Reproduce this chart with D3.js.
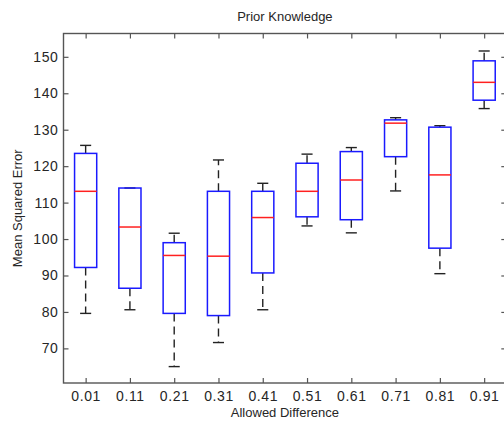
<!DOCTYPE html>
<html>
<head>
<meta charset="utf-8">
<script src="https://cdn.jsdelivr.net/npm/d3@7"></script>
<style>
  html, body { margin: 0; padding: 0; background: #fff; }
  svg { display: block; }
  text { font-family: "Liberation Sans", Arial, sans-serif; }
</style>
</head>
<body>
<svg id="chart" width="504" height="423"></svg>
<script>
// Allowed difference groups and their five-number summaries (MSE)
const categories = ["0.01", "0.11", "0.21", "0.31", "0.41", "0.51", "0.61", "0.71", "0.81", "0.91"];
const whiskerLow  = [79.6, 80.6, 65.0, 71.6, 80.6, 103.6, 101.7, 113.2, 90.5, 135.8];
const quartile1   = [92.2, 86.5, 79.6, 79.0, 90.7, 106.1, 105.3, 122.6, 97.5, 138.1];
const medians     = [113.1, 103.3, 95.5, 95.3, 105.9, 113.1, 116.2, 131.8, 117.6, 143.0];
const quartile3   = [123.5, 114.0, 99.0, 113.1, 113.1, 120.8, 124.0, 132.7, 130.7, 148.9];
const whiskerHigh = [125.7, 114.0, 101.6, 121.7, 115.3, 123.3, 125.1, 133.3, 131.1, 151.6];
const yTicks = [70, 80, 90, 100, 110, 120, 130, 140, 150];

const svg = d3.select("#chart");
const plotLeft = 63.5, plotRight = 506.3, plotTop = 33.5, plotBottom = 383;

const x = d3.scaleLinear().domain([0.5, categories.length + 0.5]).range([plotLeft, plotRight]);
const y = d3.scaleLinear().domain([60.5, 156.4]).range([plotBottom, plotTop]);

const boxes = categories.map((c, i) => ({
  pos: i + 1, label: c,
  lo: whiskerLow[i], q1: quartile1[i], med: medians[i], q3: quartile3[i], hi: whiskerHigh[i]
}));

const axisColor = "#555";
const textColor = "#262626";

// Frame
svg.append("rect")
  .attr("x", plotLeft).attr("y", plotTop)
  .attr("width", plotRight - plotLeft).attr("height", plotBottom - plotTop)
  .attr("fill", "none").attr("stroke", axisColor).attr("stroke-width", 1.4);

// Bottom axis (ticks point inward)
const xAxis = d3.axisBottom(x)
  .tickValues(boxes.map(b => b.pos))
  .tickFormat((d, i) => categories[i])
  .tickSizeInner(-5).tickSizeOuter(0).tickPadding(8);
const gx = svg.append("g").attr("transform", `translate(0,${plotBottom})`).call(xAxis);

// Top axis ticks
const gxt = svg.append("g").attr("transform", `translate(0,${plotTop})`)
  .call(d3.axisTop(x).tickValues(boxes.map(b => b.pos)).tickFormat("").tickSizeInner(-5).tickSizeOuter(0));

// Left axis
const yAxis = d3.axisLeft(y).tickValues(yTicks).tickSizeInner(-5).tickSizeOuter(0).tickPadding(5);
const gy = svg.append("g").attr("transform", `translate(${plotLeft},0)`).call(yAxis);

// Right axis ticks
const gyr = svg.append("g").attr("transform", `translate(${plotRight},0)`)
  .call(d3.axisRight(y).tickValues(yTicks).tickFormat("").tickSizeInner(-5).tickSizeOuter(0));

[gx, gxt, gy, gyr].forEach(g => {
  g.select(".domain").remove();
  g.selectAll(".tick line").attr("stroke", axisColor).attr("stroke-width", 1.2);
  g.selectAll(".tick text")
    .attr("fill", textColor)
    .style("font-family", '"Liberation Sans", Arial, sans-serif')
    .style("font-size", "14px")
    .style("letter-spacing", "0.6px");
});

// Boxes
const boxW = (x(2) - x(1)) * 0.5;
const capW = (x(2) - x(1)) * 0.25;
const g = svg.append("g");

const bg = g.selectAll("g.box").data(boxes).join("g").attr("class", "box");

// whiskers
bg.append("line")
  .attr("x1", d => x(d.pos)).attr("x2", d => x(d.pos))
  .attr("y1", d => y(d.q3)).attr("y2", d => y(d.hi))
  .attr("stroke", "#222").attr("stroke-width", 1.4).attr("stroke-dasharray", "8,5");
bg.append("line")
  .attr("x1", d => x(d.pos)).attr("x2", d => x(d.pos))
  .attr("y1", d => y(d.q1)).attr("y2", d => y(d.lo))
  .attr("stroke", "#222").attr("stroke-width", 1.4).attr("stroke-dasharray", "8,5");
// caps
bg.append("line")
  .attr("x1", d => x(d.pos) - capW / 2).attr("x2", d => x(d.pos) + capW / 2)
  .attr("y1", d => y(d.hi)).attr("y2", d => y(d.hi))
  .attr("stroke", "#222").attr("stroke-width", 1.4);
bg.append("line")
  .attr("x1", d => x(d.pos) - capW / 2).attr("x2", d => x(d.pos) + capW / 2)
  .attr("y1", d => y(d.lo)).attr("y2", d => y(d.lo))
  .attr("stroke", "#222").attr("stroke-width", 1.4);
// box
bg.append("rect")
  .attr("x", d => x(d.pos) - boxW / 2).attr("width", boxW)
  .attr("y", d => y(d.q3)).attr("height", d => y(d.q1) - y(d.q3))
  .attr("fill", "none").attr("stroke", "#1a1aff").attr("stroke-width", 1.5);
// median
bg.append("line")
  .attr("x1", d => x(d.pos) - boxW / 2).attr("x2", d => x(d.pos) + boxW / 2)
  .attr("y1", d => y(d.med)).attr("y2", d => y(d.med))
  .attr("stroke", "#ff2020").attr("stroke-width", 1.5);

// Title and axis labels
svg.append("text")
  .attr("x", (plotLeft + plotRight) / 2).attr("y", 21)
  .attr("text-anchor", "middle").attr("fill", textColor)
  .style("font-size", "13px").text("Prior Knowledge");

svg.append("text")
  .attr("x", (plotLeft + plotRight) / 2).attr("y", 417)
  .attr("text-anchor", "middle").attr("fill", textColor)
  .style("font-size", "13px").text("Allowed Difference");

svg.append("text")
  .attr("transform", `translate(22,${(plotTop + plotBottom) / 2}) rotate(-90)`)
  .attr("text-anchor", "middle").attr("fill", textColor)
  .style("font-size", "13px").text("Mean Squared Error");
</script>
</body>
</html>
